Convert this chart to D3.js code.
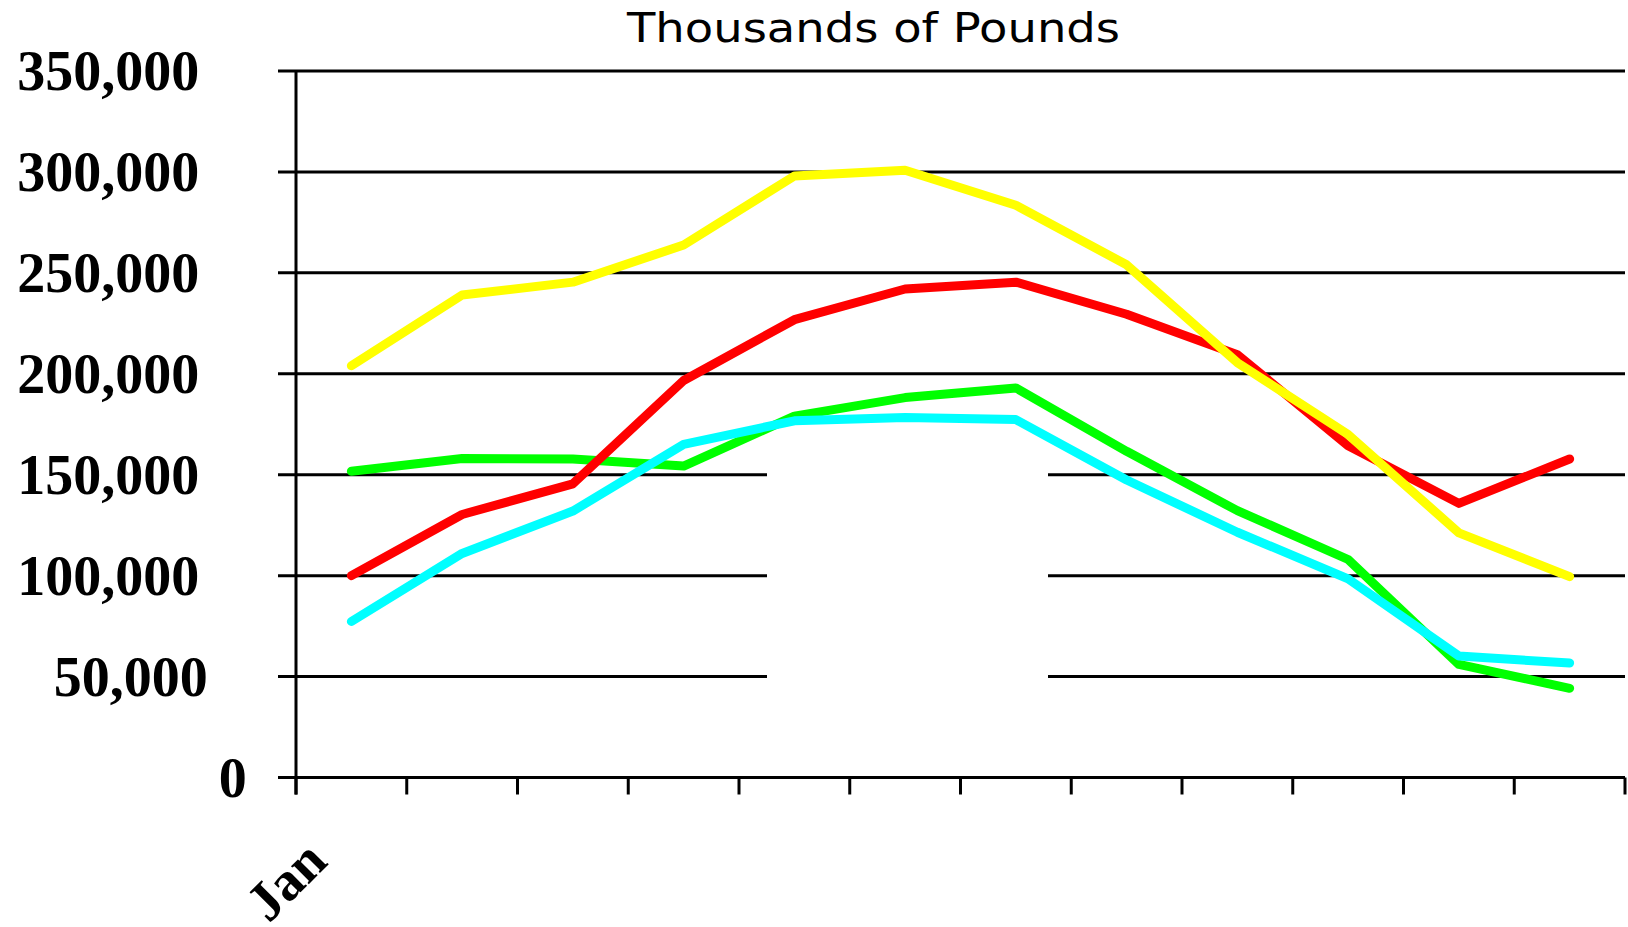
<!DOCTYPE html>
<html>
<head>
<meta charset="utf-8">
<script src="https://cdn.jsdelivr.net/npm/d3@7"></script>
<style>
  html, body { margin: 0; padding: 0; background: #fff; }
  svg { display: block; }
</style>
</head>
<body>
<svg id="chart" width="1628" height="927"></svg>
<script>
// ---- data ----
const months = ["Jan","Feb","Mar","Apr","May","Jun","Jul","Aug","Sep","Oct","Nov","Dec"];
const shownMonthLabels = ["Jan"];
const yTickValues = [0, 50000, 100000, 150000, 200000, 250000, 300000, 350000];
const titleText = "Thousands of Pounds";

const redSeries    = [100000, 130300, 145500, 196700, 226800, 242000, 245400, 229500, 209500, 164300, 135800, 157800];
const yellowSeries = [204000, 239000, 245400, 263800, 298000, 300800, 283500, 254000, 205500, 169900, 121200, 99500];
const greenSeries  = [151700, 158000, 157800, 154300, 179000, 188200, 193000, 161600, 132200, 108000, 56000, 44200];
const cyanSeries   = [77300, 111000, 132000, 165000, 176700, 178300, 177300, 147400, 121500, 98400, 60200, 56700];

const seriesList = [
  { name: "green",  values: greenSeries,  color: "#00ff00" },
  { name: "red",    values: redSeries,    color: "#ff0000" },
  { name: "cyan",   values: cyanSeries,   color: "#00ffff" },
  { name: "yellow", values: yellowSeries, color: "#ffff00" }
];

// ---- layout ----
const svg = d3.select("#chart");
const plotLeft = 296, plotRight = 1625, plotTop = 71, plotBottom = 777.5;

const x = d3.scaleBand().domain(months).range([plotLeft, plotRight]).paddingInner(0).paddingOuter(0);
const y = d3.scaleLinear().domain([0, 350000]).range([plotBottom, plotTop]);
const cx = m => x(m) + x.bandwidth() / 2;

// title
svg.append("text")
  .attr("x", 873.5).attr("y", 41.7)
  .attr("text-anchor", "middle")
  .attr("font-family", "DejaVu Sans, Verdana, sans-serif")
  .attr("font-size", 40)
  .attr("textLength", 493)
  .attr("lengthAdjust", "spacingAndGlyphs")
  .attr("fill", "#000")
  .text(titleText);

// gridlines (extend left of the axis as tick marks)
svg.append("g").selectAll("line")
  .data(yTickValues.filter(v => v > 0))
  .join("line")
  .attr("x1", plotLeft - 18).attr("x2", plotRight)
  .attr("y1", d => y(d)).attr("y2", d => y(d))
  .attr("stroke", "#000").attr("stroke-width", 3);

// blank legend box covering part of the gridlines
svg.append("rect")
  .attr("x", 767).attr("y", 420)
  .attr("width", 281).attr("height", 300)
  .attr("fill", "#fff");

// x axis baseline
svg.append("line")
  .attr("x1", plotLeft - 18).attr("x2", plotRight)
  .attr("y1", plotBottom).attr("y2", plotBottom)
  .attr("stroke", "#000").attr("stroke-width", 3);
// ticks at category boundaries
const boundaries = months.map(m => x(m)).concat([x.range()[1]]);
svg.append("g").selectAll("line")
  .data(boundaries)
  .join("line")
  .attr("x1", d => d).attr("x2", d => d)
  .attr("y1", plotBottom).attr("y2", plotBottom + 17)
  .attr("stroke", "#000").attr("stroke-width", 3);

// y axis line
svg.append("line")
  .attr("x1", plotLeft).attr("x2", plotLeft)
  .attr("y1", plotTop - 1).attr("y2", plotBottom + 17)
  .attr("stroke", "#000").attr("stroke-width", 3);

// y labels
const fmt = d3.format(",");
const yLabels = svg.append("g").selectAll("text")
  .data(yTickValues)
  .join("text")
  .attr("y", d => y(d) + 19)
  .attr("font-family", "Liberation Serif, Times New Roman, serif")
  .attr("font-weight", "bold")
  .attr("font-size", 56)
  .attr("fill", "#000")
  .text(d => fmt(d));
yLabels.each(function() {
  const w = this.getComputedTextLength();
  const rightEdge = 255.3 - 0.308 * w;
  d3.select(this).attr("x", rightEdge - w);
});

// x labels (only Jan shown)
svg.append("g").selectAll("text")
  .data(shownMonthLabels)
  .join("text")
  .attr("transform", d => `translate(${cx(d) - 22},${plotBottom + 86}) rotate(-45)`)
  .attr("text-anchor", "end")
  .attr("font-family", "Liberation Serif, Times New Roman, serif")
  .attr("font-weight", "bold")
  .attr("font-size", 55)
  .attr("fill", "#000")
  .text(d => d);

// lines
const line = d3.line()
  .x((d, i) => cx(months[i]))
  .y(d => y(d));

svg.append("g").selectAll("path")
  .data(seriesList)
  .join("path")
  .attr("d", d => line(d.values))
  .attr("fill", "none")
  .attr("stroke", d => d.color)
  .attr("stroke-width", 9)
  .attr("stroke-linejoin", "round")
  .attr("stroke-linecap", "round");
</script>
</body>
</html>
